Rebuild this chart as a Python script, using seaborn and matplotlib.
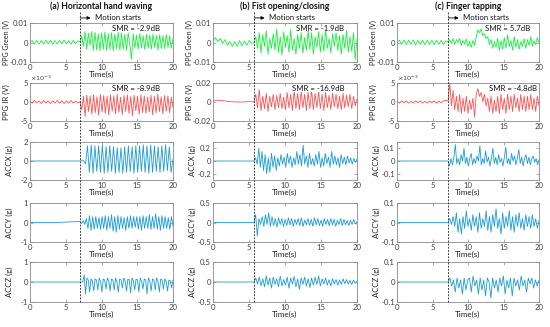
import numpy as np
import pandas as pd
import matplotlib
matplotlib.use('Agg')
import matplotlib.pyplot as plt
import seaborn as sns
from matplotlib.transforms import blended_transform_factory
from matplotlib.lines import Line2D
from matplotlib.ticker import FuncFormatter

sns.set_theme(style='white')
plt.rcParams['font.family'] = ['Lato', 'DejaVu Sans']

# ---------------- text / layout data ----------------
columns = ['(a) Horizontal hand waving', '(b) Fist opening/closing', '(c) Finger tapping']
onsets = [7.0, 5.7, 7.2]
row_labels = ['PPG Green (V)', 'PPG IR (V)', 'ACCX (g)', 'ACCY (g)', 'ACCZ (g)']
smr_green = ['SMR = -2.9dB', 'SMR = -1.9dB', 'SMR = 5.7dB']
smr_ir = ['SMR = -8.9dB', 'SMR = -16.9dB', 'SMR = -4.8dB']
x_ticks = [0, 5, 10, 15, 20]

# ---------------- signal readings (PPG in mV, ACC in g) ----------------
# (a) Horizontal hand waving
a_green_pre = [0.2, 1.0, -0.8, 1.1, -0.9, 1.0, -0.8, 1.2, -0.7, 1.1, -0.9, 1.0, -0.8, 1.1, -0.7, 1.2, -0.8, 1.0, -0.9, 1.1, -0.6, 0.8]
a_green_post = [0.5, 3.5, -2.0, 5.5, -3.5, 4.8, -1.5, 5.6, -4.0, 5.2, -3.8, 4.5, -4.2, 5.0, -3.5, 5.4, -4.0, 4.6, -3.6, 5.0,
                -4.3, 4.4, -3.2, 5.2, -3.9, 4.8, -3.5, 4.2, -4.0, 5.0, -1.0, -8.5, 4.5, -3.0, 3.8, -3.5, 4.6, -2.8, 3.5, -3.6,
                4.2, -3.0, 3.9, -3.4, 4.4, -2.6, 3.6, -3.8, 4.0, -3.0, 3.5, -3.2, 4.1, -2.5, 3.4, -3.0, 2.0]
a_ir_pre = [0.2, -0.3, 0.4, -0.3, 0.3, -0.4, 0.4, -0.3, 0.3, -0.4, 0.3, -0.3, 0.4, -0.3, 0.3, -0.4, 0.3, -0.3, 0.4, -0.3, 0.2, -0.2]
a_ir_post = [0.0, -2.0, 1.5, -3.8, 1.8, -2.5, 1.6, -3.2, 1.9, -2.8, 1.4, -3.5, 2.0, -2.6, 1.7, -3.0, 1.5, -3.4, 1.8, -2.4,
             1.6, -3.1, 2.0, -2.7, 1.3, -3.3, 1.7, -2.5, 1.9, -3.0, 1.4, -3.6, 1.8, -2.3, 1.5, -3.2, 1.9, -2.8, 1.6, -3.0,
             1.3, -2.6, 1.8, -3.4, 1.5, -2.9, 2.0, -2.5, 1.4, -3.1, 1.7, -2.4, 1.6, -2.8, 1.2, -1.5]
a_accx_pre = [0.0, 0.0]
a_accx_post = [0.0, 0.05, 0.0, -0.3, 1.6, -1.2, 1.7, -1.3, 1.6, -1.1, 1.6, -1.2, 1.7, -1.3, 1.5, -1.2, 1.6, -1.1, 1.5, -1.3,
               1.4, -1.2, 1.4, -1.3, 1.5, -1.2, 1.6, -1.1, 1.5, -1.3, 1.6, -1.2, 1.6, -1.1, 1.7, -1.2, 1.6, -1.3, 1.7, -1.2,
               1.6, -1.1, 1.5, -1.2, 1.6, -1.1, 1.7, -1.0, 1.5, -1.2, 0.2]
a_accy_pre = [0.0, 0.0]
a_accy_post = [0.05, -0.05, 0.1, -0.1, 0.2, -0.3, 0.35, -0.4, 0.3, -0.35, 0.3, -0.3, 0.25, -0.35, 0.3, -0.3, 0.35, -0.4, 0.3, -0.3,
               0.4, -0.45, 0.3, -0.5, 0.35, -0.35, 0.3, -0.3, 0.25, -0.4, 0.3, -0.3, 0.35, -0.3, 0.3, -0.25, 0.3, -0.35, 0.3, -0.4,
               0.35, -0.3, 0.3, -0.3, 0.4, -0.35, 0.3, -0.3, 0.45, -0.35, 0.3, -0.4, 0.35, -0.3, 0.3, -0.3, 0.25, -0.35, 0.3, -0.2]
a_accz_pre = [0.0, 0.0]
a_accz_post = [0.0, 0.0, 0.0, 0.35, -0.6, 0.2, 0.1, -0.5, 0.15, 0.05, -0.45, 0.15, 0.1, -0.4, 0.2, 0.05, -0.5, 0.15, 0.1, -0.35,
               0.2, 0.05, -0.45, 0.15, 0.1, -0.4, 0.2, 0.0, -0.5, 0.15, 0.1, -0.3, 0.2, 0.05, -0.45, 0.15, 0.1, -0.55, 0.2, 0.05,
               -0.4, 0.15, 0.1, -0.5, 0.2, 0.05, -0.35, 0.15, 0.1, -0.6, 0.2, 0.05, -0.45, 0.15, 0.1, -0.4, 0.2, 0.05, -0.5, 0.15,
               0.1, -0.35, 0.15, 0.05, -0.45, 0.1, 0.05, -0.3, 0.1]

# (b) Fist opening/closing
b_green_pre = [0.5, 2.5, 0.5, 2.0, -0.5, 1.5, -1.5, 0.5, -2.0, 0.5, -2.0, 1.0, -1.8, 0.8, -1.5, 1.0, -0.5]
b_green_post = [0.0, 3.0, -3.0, 5.0, -5.5, 4.0, -2.0, 6.0, -6.0, 2.0, -3.0, 4.5, -4.0, 7.0, -5.0, 3.0, -6.5, 5.5, -2.5, 3.5,
                -5.0, 6.5, -4.0, 2.0, -6.0, 4.0, -3.0, 5.0, -5.5, 2.5, -4.0, 6.0, -3.5, 5.0, -6.0, 3.0, -2.5, 5.5, -5.0, 4.0,
                -4.5, 6.5, -3.0, 2.0, -5.5, 4.5, -2.0, 5.0, -4.0, 3.5, -6.0, 4.0, -3.0, 6.0, -5.0, 3.0, -4.5, 5.0, -9.0, 2.0]
b_ir_pre = [1.0, 1.8, 1.5, 1.0, 0.5, 0.2, 0.0, 0.0, 0.2, 0.5]
b_ir_post = [0.0, 8.0, -6.0, 13.0, -9.0, 6.0, -7.0, 9.0, -10.0, 6.0, -5.0, 8.0, -8.0, 7.0, -6.0, 9.0, -7.0, 5.0, -8.0, 10.0,
             -6.0, 8.0, -9.0, 12.0, -7.0, 9.0, -8.0, 11.0, -6.0, 8.0, -9.0, 10.0, -7.0, 12.0, -8.0, 9.0, -6.0, 11.0, -7.0, 8.0,
             -9.0, 10.0, -6.0, 7.0, -8.0, 9.0, -5.0, 8.0, -7.0, 6.0, -8.0, 9.0, -6.0, 7.0, -5.0, 8.0, -7.0, 6.0, -4.0, 3.0]
b_accx_pre = [0.0, 0.0]
b_accx_post = [0.0, 0.05, -0.05, 0.2, -0.1, 0.15, -0.15, 0.1, -0.2, 0.05, -0.18, 0.12, -0.1, 0.08, -0.15, 0.05, -0.08, 0.1, -0.05, 0.06,
               -0.1, 0.12, -0.04, 0.08, -0.1, 0.05, -0.06, 0.15, -0.05, 0.1, -0.08, 0.25, -0.05, 0.08, -0.1, 0.12, -0.06, 0.04, -0.08, 0.1,
               -0.05, 0.15, -0.1, 0.05, -0.08, 0.12, -0.04, 0.06, -0.1, 0.15, -0.05, 0.08, -0.06, 0.05, -0.1, 0.1, -0.04, 0.06, -0.06, 0.08,
               -0.03, 0.05, -0.05, 0.04, -0.02, 0.03]
b_accy_pre = [0.0, 0.0]
b_accy_post = [0.0, 0.2, -0.35, 0.1, -0.05, 0.15, -0.1, 0.2, -0.05, 0.25, -0.1, 0.15, -0.08, 0.1, -0.12, 0.12, -0.05, 0.1, -0.1, 0.08,
               -0.08, 0.12, -0.06, 0.1, -0.1, 0.08, -0.05, 0.1, -0.08, 0.12, -0.1, 0.06, -0.06, 0.1, -0.08, 0.08, -0.1, 0.12, -0.06, 0.1,
               -0.08, 0.06, -0.1, 0.1, -0.05, 0.08, -0.08, 0.1, -0.06, 0.08, -0.1, 0.06, -0.05, 0.1, -0.08, 0.08, -0.06, 0.05, -0.08, 0.06,
               -0.05, 0.08, -0.04, 0.02]
b_accz_pre = [0.0, 0.0]
b_accz_post = [0.0, 0.1, -0.05, 0.12, -0.1, 0.08, -0.12, 0.15, -0.08, 0.1, -0.15, 0.12, -0.06, 0.08, -0.12, 0.15, -0.1, 0.06, -0.08, 0.12,
               -0.15, 0.1, -0.05, 0.14, -0.12, 0.08, -0.18, 0.1, -0.06, 0.12, -0.1, 0.08, -0.14, 0.1, -0.08, 0.12, -0.06, 0.15, -0.1, 0.08,
               -0.05, 0.1, -0.08, 0.06, -0.1, 0.08, -0.05, 0.06, -0.08, 0.05, -0.06, 0.08, -0.04, 0.06, -0.05, 0.04, -0.06, 0.05, -0.03, 0.02]

# (c) Finger tapping
c_green_pre = [0.0, 1.2, -1.0, 1.3, -1.1, 1.2, -1.0, 1.3, -1.2, 1.1, -1.0, 1.2, -1.1, 1.3, -1.0, 1.2, -1.1, 1.2, -0.9, 1.1, -1.0, 0.8]
c_green_post = [0.5, 1.5, -0.5, 2.0, -1.0, 1.5, 0.0, 2.0, -1.5, 1.0, -1.0, 1.8, -2.0, 0.5, -2.5, 1.0, -1.5, 2.5, 6.5, 5.0,
                7.0, 3.5, 4.5, 2.0, 3.0, -1.0, 1.5, -3.0, 0.5, -2.5, 2.0, -4.0, 1.0, -3.5, 2.5, -3.0, 4.0, -2.0, 1.0, -4.0,
                3.0, -2.5, 1.5, -3.5, 0.5, -2.0, 2.0, -3.0, 1.5, -1.5, 3.0, -2.0, 1.0, -1.0, 2.5, 0.0]
c_ir_pre = [0.2, -0.3, 0.3, -0.2, 0.3, -0.3, 0.2, -0.3, 0.3, -0.2, 0.3, -0.3, 0.2, -0.3, 0.3, -0.2, 0.3, -0.3, 0.2, -0.2, 0.3, 0.4]
c_ir_post = [0.3, 5.0, -1.0, 3.0, -2.0, 1.5, -2.5, 2.0, -3.0, 1.0, -2.5, 1.5, -3.0, 0.5, -2.0, 1.0, -4.0, 2.0, 3.5, 1.5,
             2.5, 0.0, 2.0, -1.0, 1.0, -2.5, 1.5, -3.0, 0.5, -2.5, 1.5, -3.0, 2.0, -2.0, 1.0, -3.0, 2.0, -2.0, 1.5, -2.5,
             2.0, -1.5, 1.0, -2.5, 2.0, -2.0, 1.5, -2.5, 1.5, -2.0, 2.0, -2.0, 1.0, -2.5, 1.5, -1.0]
c_accx_pre = [0.0, 0.0]
c_accx_post = [0.0, -0.04, 0.02, -0.03, 0.03, 0.13, -0.02, 0.02, -0.03, 0.05, 0.0, 0.1, -0.02, 0.03, -0.04, 0.02, 0.06, -0.03, 0.02, -0.02,
               0.04, 0.0, 0.12, -0.03, 0.02, -0.02, 0.08, -0.01, 0.03, -0.04, 0.02, 0.1, -0.02, 0.03, -0.03, 0.05, -0.01, 0.02, -0.04, 0.03,
               0.11, -0.02, 0.02, -0.03, 0.06, 0.0, 0.04, -0.03, 0.02, 0.09, -0.02, 0.03, -0.04, 0.02, 0.05, -0.02, 0.03, -0.03, 0.02, 0.04,
               -0.01, 0.02, -0.03, 0.01]
c_accy_pre = [0.0, 0.0]
c_accy_post = [0.0, 0.02, -0.01, 0.03, -0.02, 0.05, -0.05, 0.02, -0.06, 0.03, -0.03, 0.06, -0.02, 0.02, -0.04, 0.04, -0.02, 0.03, -0.05, 0.05,
               -0.03, 0.02, -0.02, 0.06, -0.04, 0.03, -0.05, 0.04, -0.02, 0.07, -0.03, 0.02, -0.06, 0.05, -0.03, 0.03, -0.02, 0.06, -0.04, 0.03,
               -0.05, 0.04, -0.02, 0.05, -0.03, 0.02, -0.04, 0.04, -0.02, 0.03, -0.03, 0.04, -0.02, 0.02, -0.03, 0.01]
c_accz_pre = [0.0, 0.0]
c_accz_post = [0.0, 0.02, -0.02, 0.01, -0.05, 0.02, -0.03, 0.01, -0.06, 0.02, -0.04, 0.01, 0.02, -0.05, 0.03, -0.02, 0.01, -0.06, 0.02, -0.04,
               0.01, -0.07, 0.02, 0.0, -0.08, 0.02, -0.03, 0.01, -0.05, 0.02, -0.02, 0.03, -0.06, 0.01, -0.03, 0.02, -0.07, 0.02, -0.02, 0.01,
               -0.04, 0.03, -0.02, 0.01, -0.05, 0.02, -0.01, 0.02, -0.03, 0.01, -0.02, 0.01]

signals = [
    [(a_green_pre, a_green_post), (a_ir_pre, a_ir_post), (a_accx_pre, a_accx_post), (a_accy_pre, a_accy_post), (a_accz_pre, a_accz_post)],
    [(b_green_pre, b_green_post), (b_ir_pre, b_ir_post), (b_accx_pre, b_accx_post), (b_accy_pre, b_accy_post), (b_accz_pre, b_accz_post)],
    [(c_green_pre, c_green_post), (c_ir_pre, c_ir_post), (c_accx_pre, c_accx_post), (c_accy_pre, c_accy_post), (c_accz_pre, c_accz_post)],
]
unit_scale = [1e-3, 1e-3, 1.0, 1.0, 1.0]   # mV -> V for PPG rows

ylims = [
    [0.01, 5e-3, 2, 1, 1],
    [0.01, 0.02, 0.3, 0.5, 0.5],
    [0.01, 5e-3, 0.15, 0.1, 0.1],
]
ytick_max = [
    [0.01, 5e-3, 2, 1, 1],
    [0.01, 0.02, 0.2, 0.5, 0.5],
    [0.01, 5e-3, 0.1, 0.1, 0.1],
]
sci_rows = {(0, 1), (2, 1)}

line_colors = ['#14f23c', '#ff5252', '#1c9bd8', '#1c9bd8', '#1c9bd8']

# ---------------- figure ----------------
W, H = 550, 327
fig = plt.figure(figsize=(W / 100, H / 100), dpi=100)
col_px = [(30, 173), (213, 357), (397, 539)]
row_px = [(23, 62), (83, 121), (142, 180), (203, 242), (262, 302)]

axes = [[None] * 5 for _ in range(3)]
edge = '#8a8a8a'
tick_txt = '#404040'
fs = 5.6
for c in range(3):
    for r in range(5):
        l, rt = col_px[c]
        t, b = row_px[r]
        ax = fig.add_axes([l / W, 1 - b / H, (rt - l) / W, (b - t) / H])
        axes[c][r] = ax
        pre, post = signals[c][r]
        t0 = onsets[c]
        tp = np.linspace(0, t0, len(pre), endpoint=False)
        tq = np.linspace(t0, 20, len(post))
        df = pd.DataFrame({'t': np.concatenate([tp, tq]),
                           'v': np.concatenate([pre, post]) * unit_scale[r]})
        sns.lineplot(data=df, x='t', y='v', ax=ax, color=line_colors[r], lw=0.6,
                     estimator=None, errorbar=None, legend=False, sort=False)
        ax.set_xlim(0, 20)
        ym = ylims[c][r]
        ax.set_ylim(-ym, ym)
        yt = ytick_max[c][r]
        ax.set_yticks([-yt, 0, yt])
        ax.set_xticks(x_ticks)
        if (c, r) in sci_rows:
            ax.yaxis.set_major_formatter(FuncFormatter(lambda v, p: '%g' % round(v * 1e3, 6)))
            ax.text(0.0, 1.01, r'$\times10^{-3}$', transform=ax.transAxes, fontsize=4.6,
                    ha='left', va='bottom', color=tick_txt)
        else:
            ax.yaxis.set_major_formatter(FuncFormatter(lambda v, p: '%g' % round(v, 6)))
        ax.set_xlabel('Time(s)', fontsize=fs + 0.2, labelpad=0, color='#202020')
        ax.set_ylabel(row_labels[r], fontsize=5.0 if r == 0 else fs, color='#202020')
        ax.yaxis.set_label_coords(-0.14 if r < 2 else -0.12, 0.5)
        ax.tick_params(direction='in', length=2, width=0.5, colors=edge, labelcolor=tick_txt,
                       labelsize=fs, pad=1.5, top=True, right=True, bottom=True, left=True)
        for s in ax.spines.values():
            s.set_color(edge)
            s.set_linewidth(0.6)
            s.set_visible(True)

    top = axes[c][0]
    t0 = onsets[c]
    trans = blended_transform_factory(top.transData, top.transAxes)
    top.text(0.5, 1.44, columns[c], transform=top.transAxes, ha='center', va='center',
             fontsize=fs + 0.6, fontweight='bold', color='#101010')
    top.annotate('Motion starts', xy=(t0, 1.13), xycoords=trans, xytext=(11, 0),
                 textcoords='offset points', ha='left', va='center', fontsize=fs, color='#101010',
                 arrowprops=dict(arrowstyle='<|-', color='black', lw=0.6, mutation_scale=5,
                                 shrinkA=1, shrinkB=0))
    top.text(0.91 if c < 2 else 0.94, 0.86, smr_green[c], transform=top.transAxes, ha='right',
             va='center', fontsize=fs, color='#101010')
    axes[c][1].text(0.91 if c < 2 else 0.985, 0.86, smr_ir[c], transform=axes[c][1].transAxes,
                    ha='right', va='center', fontsize=fs, color='#101010',
                    bbox=dict(facecolor='white', edgecolor='none', pad=0.3))

    # dashed onset line spanning all rows
    fig.canvas.draw()
    xf = fig.transFigure.inverted().transform(top.transData.transform((t0, 0)))[0]
    yb = fig.transFigure.inverted().transform(axes[c][4].transAxes.transform((0, 0)))[1]
    fig.add_artist(Line2D([xf, xf], [1 - 12 / H, yb], transform=fig.transFigure,
                          color='#202020', lw=0.6, ls=(0, (2.2, 1.6))))

fig.savefig('out.png', dpi=100)
